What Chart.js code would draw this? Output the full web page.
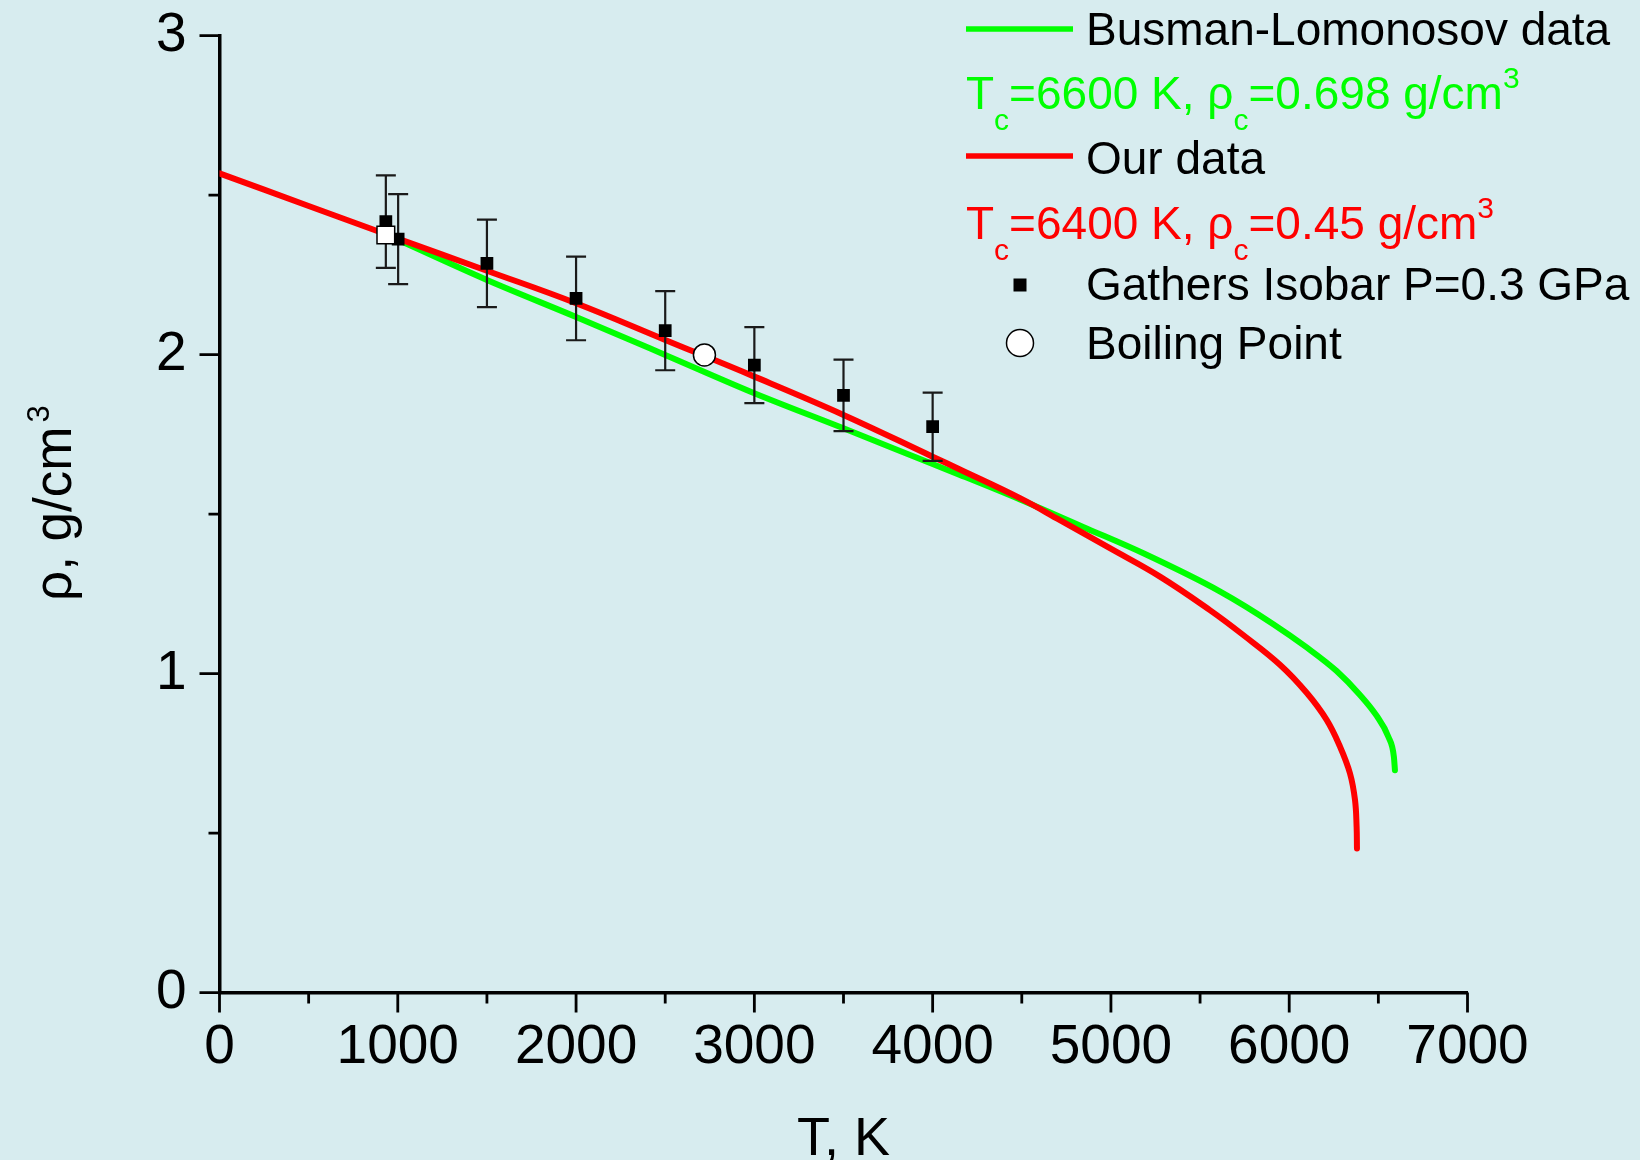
<!DOCTYPE html>
<html>
<head>
<meta charset="utf-8">
<script src="https://cdn.jsdelivr.net/npm/chart.js@4.4.1/dist/chart.umd.min.js"></script>
<style>
  html, body { margin: 0; padding: 0; background: #d7ecef; }
  #wrap { width: 1640px; height: 1160px; }
</style>
</head>
<body>
<div id="wrap"><canvas id="chart" width="1640" height="1160"></canvas></div>
<script>
// --- data ---
const ourT   = [0, 500, 1000, 1500, 2000, 2500, 3000, 3500, 4000, 4153, 4490, 4714, 4994, 5275, 5555, 5742, 5948, 6098, 6210, 6285, 6341, 6369, 6378, 6380];
const ourRho = [2.568, 2.466, 2.364, 2.263, 2.161, 2.046, 1.931, 1.811, 1.68, 1.64, 1.55, 1.481, 1.393, 1.304, 1.199, 1.121, 1.028, 0.94, 0.855, 0.771, 0.687, 0.604, 0.52, 0.452];

const blT   = [1000, 1500, 2000, 2500, 3000, 3500, 4000, 4153, 4490, 4864, 5182, 5613, 5911, 6098, 6266, 6397, 6490, 6556, 6587, 6593];
const blRho = [2.36, 2.234, 2.118, 1.999, 1.879, 1.769, 1.657, 1.623, 1.546, 1.455, 1.377, 1.257, 1.155, 1.082, 1.008, 0.933, 0.868, 0.802, 0.74, 0.697];

const gathersT   = [933, 1002, 1500, 2000, 2500, 3000, 3500, 4000];
const gathersRho = [2.417, 2.362, 2.286, 2.176, 2.075, 1.967, 1.872, 1.774];
const gathersErr = [0.145, 0.141, 0.137, 0.131, 0.124, 0.119, 0.112, 0.107];

const meltT = [933];
const meltRho = [2.375];
const boilT = [2720];
const boilRho = [1.999];

const tempTicks = [0, 1000, 2000, 3000, 4000, 5000, 6000, 7000];
const tempMinorTicks = [500, 1500, 2500, 3500, 4500, 5500, 6500];
const rhoTicks = [0, 1, 2, 3];
const rhoMinorTicks = [0.5, 1.5, 2.5];

const FAM = "'Liberation Sans', Arial, sans-serif";
const BG = '#d7ecef';
const GREEN = '#00ff00';
const RED = '#ff0000';

const toXY = (xs, ys) => xs.map((x, i) => ({x: x, y: ys[i]}));

const background = {
  id: 'background',
  beforeDraw(chart) {
    const ctx = chart.ctx;
    ctx.save();
    ctx.fillStyle = BG;
    ctx.fillRect(0, 0, chart.width, chart.height);
    ctx.restore();
  }
};

// vertical error bars under the Gathers squares
const errorBars = {
  id: 'errorBars',
  beforeDatasetDraw(chart, args) {
    if (chart.data.datasets[args.index].label !== 'gathers') return;
    const ctx = chart.ctx, xs = chart.scales.x, ys = chart.scales.y;
    ctx.save();
    ctx.strokeStyle = '#1a1a1a';
    ctx.lineWidth = 2.2;
    gathersT.forEach((t, i) => {
      const px = xs.getPixelForValue(t);
      const top = ys.getPixelForValue(gathersRho[i] + gathersErr[i]);
      const bot = ys.getPixelForValue(gathersRho[i] - gathersErr[i]);
      ctx.beginPath();
      ctx.moveTo(px, top); ctx.lineTo(px, bot);
      ctx.moveTo(px - 10, top); ctx.lineTo(px + 10, top);
      ctx.moveTo(px - 10, bot); ctx.lineTo(px + 10, bot);
      ctx.stroke();
    });
    ctx.restore();
  }
};

function richText(ctx, x, base, parts, size) {
  for (const [t, kind] of parts) {
    let y = base;
    if (kind === 'sub') { ctx.font = '30px ' + FAM; y = base + 21; }
    else if (kind === 'sup') { ctx.font = '30px ' + FAM; y = base - 21; }
    else { ctx.font = size + 'px ' + FAM; }
    ctx.fillText(t, x, y);
    x += ctx.measureText(t).width;
  }
  return x;
}

const decorations = {
  id: 'decorations',
  afterDraw(chart) {
    const ctx = chart.ctx, xs = chart.scales.x, ys = chart.scales.y;
    const area = chart.chartArea;
    ctx.save();
    // tick marks
    ctx.strokeStyle = '#000';
    ctx.lineWidth = 2.8;
    ctx.beginPath();
    tempTicks.forEach(v => { const p = xs.getPixelForValue(v); ctx.moveTo(p, area.bottom); ctx.lineTo(p, area.bottom + 20); });
    tempMinorTicks.forEach(v => { const p = xs.getPixelForValue(v); ctx.moveTo(p, area.bottom); ctx.lineTo(p, area.bottom + 11); });
    rhoTicks.forEach(v => { const p = ys.getPixelForValue(v); ctx.moveTo(area.left, p); ctx.lineTo(area.left - 20, p); });
    rhoMinorTicks.forEach(v => { const p = ys.getPixelForValue(v); ctx.moveTo(area.left, p); ctx.lineTo(area.left - 11, p); });
    ctx.stroke();

    // axis titles
    ctx.fillStyle = '#000';
    ctx.textBaseline = 'alphabetic';
    ctx.textAlign = 'center';
    ctx.font = '54px ' + FAM;
    ctx.fillText('T, K', (area.left + area.right) / 2, 1155);

    ctx.textAlign = 'left';
    ctx.save();
    ctx.translate(71, 601);
    ctx.rotate(-Math.PI / 2);
    ctx.font = '53px ' + FAM;
    ctx.fillText('\u03c1, g/cm', 0, 0);
    const w = ctx.measureText('\u03c1, g/cm').width;
    ctx.font = '31px ' + FAM;
    ctx.fillText('3', w + 4, -22);
    ctx.restore();

    // legend
    const LX = 966, TX = 1086, FS = 46;
    ctx.lineCap = 'butt';
    ctx.lineWidth = 5.5;
    ctx.strokeStyle = GREEN;
    ctx.beginPath(); ctx.moveTo(LX, 29); ctx.lineTo(1073, 29); ctx.stroke();
    ctx.strokeStyle = RED;
    ctx.beginPath(); ctx.moveTo(LX, 156); ctx.lineTo(1073, 156); ctx.stroke();

    ctx.fillStyle = '#000';
    ctx.font = FS + 'px ' + FAM;
    ctx.fillText('Busman-Lomonosov data', TX, 45);
    ctx.fillText('Our data', TX, 174);
    ctx.fillText('Gathers Isobar P=0.3 GPa', TX, 300);
    ctx.fillText('Boiling Point', TX, 359);

    ctx.fillStyle = GREEN;
    richText(ctx, LX, 109, [['T'], ['c', 'sub'], ['=6600 K, \u03c1'], ['c', 'sub'], ['=0.698 g/cm'], ['3', 'sup']], FS);
    ctx.fillStyle = RED;
    richText(ctx, LX, 239, [['T'], ['c', 'sub'], ['=6400 K, \u03c1'], ['c', 'sub'], ['=0.45 g/cm'], ['3', 'sup']], FS);

    ctx.fillStyle = '#000';
    ctx.fillRect(1020 - 6.5, 285 - 6.5, 13, 13);
    ctx.beginPath();
    ctx.arc(1020, 343, 13.5, 0, Math.PI * 2);
    ctx.fillStyle = '#fff';
    ctx.fill();
    ctx.lineWidth = 1.5;
    ctx.strokeStyle = '#000';
    ctx.stroke();
    ctx.restore();
  }
};

new Chart(document.getElementById('chart'), {
  type: 'line',
  plugins: [background, errorBars, decorations],
  data: {
    datasets: [
      { label: 'boiling', data: toXY(boilT, boilRho), showLine: false, pointStyle: 'circle', pointRadius: 11,
        backgroundColor: '#fff', borderColor: '#000', borderWidth: 1.5 },
      { label: 'melt', data: toXY(meltT, meltRho), showLine: false, pointStyle: 'rect', pointRadius: 12.5,
        backgroundColor: '#fff', borderColor: '#000', borderWidth: 1.5 },
      { label: 'gathers', data: toXY(gathersT, gathersRho), showLine: false, pointStyle: 'rect', pointRadius: 9,
        backgroundColor: '#000', borderColor: '#000', borderWidth: 0 },
      { label: 'our', data: toXY(ourT, ourRho), pointRadius: 0,
        borderColor: RED, borderWidth: 6, borderCapStyle: 'round', borderJoinStyle: 'round',
        tension: 0.4 },
      { label: 'busman', data: toXY(blT, blRho), pointRadius: 0,
        borderColor: GREEN, borderWidth: 6, borderCapStyle: 'round', borderJoinStyle: 'round',
        cubicInterpolationMode: 'monotone' }
    ]
  },
  options: {
    responsive: false,
    animation: false,
    layout: { padding: { top: 35.6, right: 172.5, left: 0, bottom: 0 } },
    plugins: { legend: { display: false }, tooltip: { enabled: false } },
    scales: {
      x: {
        type: 'linear', min: 0, max: 7000,
        grid: { drawOnChartArea: false, drawTicks: false },
        border: { display: true, color: '#000', width: 3.5 },
        afterBuildTicks: s => { s.ticks = tempTicks.map(v => ({value: v})); },
        afterFit: s => { s.height = 167.4; s.paddingLeft = 0; s.paddingRight = 0; },
        ticks: { autoSkip: false, maxRotation: 0, padding: 22, color: '#000',
                 font: { family: FAM, size: 55 }, callback: v => String(v) }
      },
      y: {
        type: 'linear', min: 0, max: 3,
        grid: { drawOnChartArea: false, drawTicks: false },
        border: { display: true, color: '#000', width: 3.5 },
        afterBuildTicks: s => { s.ticks = rhoTicks.map(v => ({value: v})); },
        afterFit: s => { s.width = 219.5; s.paddingTop = 0; s.paddingBottom = 0; },
        ticks: { padding: 33, color: '#000', font: { family: FAM, size: 55 }, callback: v => String(v) }
      }
    }
  }
});
</script>
</body>
</html>
